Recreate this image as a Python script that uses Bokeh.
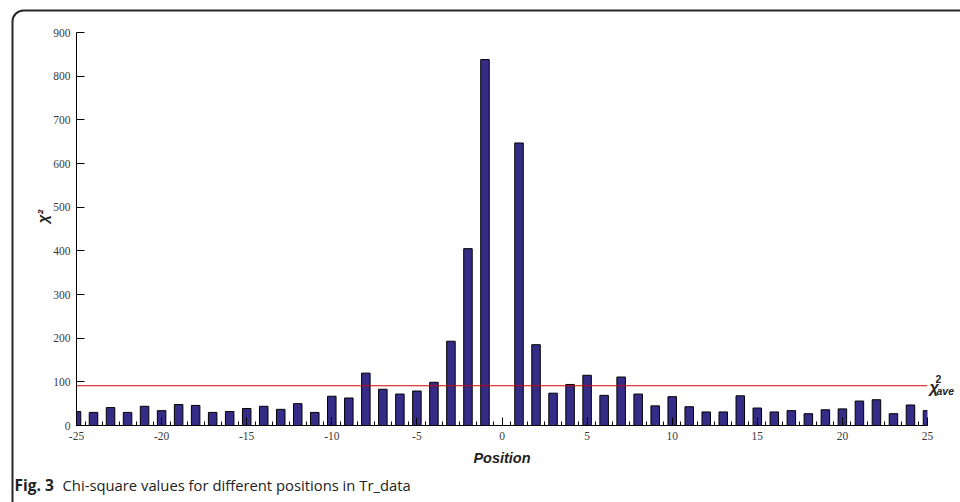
import math
from bokeh.plotting import figure
from bokeh.models import (ColumnDataSource, Label, BoxAnnotation,
                          FixedTicker, Range1d, PrintfTickFormatter)
from bokeh.embed import file_html
from bokeh.resources import INLINE

# ---- data ----
positions = [-25, -24, -23, -22, -21, -20, -19, -18, -17, -16, -15, -14, -13,
             -12, -11, -10, -9, -8, -7, -6, -5, -4, -3, -2, -1, 0, 1, 2, 3, 4,
             5, 6, 7, 8, 9, 10, 11, 12, 13, 14, 15, 16, 17, 18, 19, 20, 21, 22,
             23, 24, 25]
chi_square = [32, 30, 41, 30, 44, 34, 48, 46, 30, 32, 39, 44, 37,
              50, 30, 67, 63, 120, 83, 72, 79, 99, 193, 405, 838, 0, 647, 185, 74, 94,
              115, 69, 111, 72, 45, 66, 43, 31, 31, 68, 40, 31, 34, 27, 36, 38, 56, 59,
              27, 47, 34]
chi_ave = 91
x_ticks = [-25, -20, -15, -10, -5, 0, 5, 10, 15, 20, 25]
y_ticks = [0, 100, 200, 300, 400, 500, 600, 700, 800, 900]
caption_bold = "Fig. 3"
caption_text = "Chi-square values for different positions in Tr_data"

# ---- layout (pixels) ----
W, H = 960, 502
AX_L, AX_R = 76, 927      # pixel x of first / last position
AX_B, AX_T = 425, 32      # pixel y of 0 / 900
xmin, xmax = x_ticks[0], x_ticks[-1]
ymin, ymax = y_ticks[0], y_ticks[-1]
kx = (AX_R - AX_L) / (xmax - xmin)
ky = (AX_B - AX_T) / (ymax - ymin)
x_range = Range1d(xmin - AX_L / kx, xmax + (W - AX_R) / kx)
y_range = Range1d(ymin - (H - AX_B) / ky, ymax + AX_T / ky)

src = ColumnDataSource(dict(x=positions, y=chi_square))

p = figure(width=W, height=H, min_border=0,
           x_range=x_range, y_range=y_range,
           output_backend="svg", toolbar_location=None,
           background_fill_color="white", border_fill_color="white")
p.outline_line_color = None
p.grid.visible = False

p.vbar(x="x", top="y", bottom=0, width=0.5, source=src,
       fill_color="#352c88", line_color="black", line_width=1)

# clip the bars at the axis ends like the original chart area
p.add_layout(BoxAnnotation(right=xmin, fill_color="white", fill_alpha=1,
                           line_color=None, level="glyph"))
p.add_layout(BoxAnnotation(left=xmax, fill_color="white", fill_alpha=1,
                           line_color=None, level="glyph"))

# average chi-square line
p.segment(x0=[xmin], x1=[xmax], y0=[chi_ave], y1=[chi_ave],
          line_color="#d40000", line_width=1)

minor = [v + 0.5 for v in positions[:-1]]
xa = p.xaxis[0]
xa.fixed_location = 0
xa.bounds = (xmin, xmax)
xa.ticker = FixedTicker(ticks=x_ticks, minor_ticks=minor)
xa.formatter = PrintfTickFormatter(format="%d")
xa.major_tick_in = 8
xa.major_tick_out = 0
xa.minor_tick_in = 4
xa.minor_tick_out = 0
xa.axis_line_color = "black"
xa.major_label_text_font = "Liberation Serif"
xa.major_label_text_font_size = "11.5px"
xa.major_label_text_color = "#3a3a3a"
xa.major_label_standoff = 6
xa.axis_label = "Position"
xa.axis_label_text_font = "Liberation Sans"
xa.axis_label_text_font_style = "bold italic"
xa.axis_label_text_font_size = "14.5px"
xa.axis_label_text_color = "#222222"
xa.axis_label_standoff = 7

ya = p.yaxis[0]
ya.fixed_location = xmin
ya.bounds = (ymin, ymax)
ya.ticker = FixedTicker(ticks=y_ticks)
ya.formatter = PrintfTickFormatter(format="%d")
ya.major_tick_in = 8
ya.major_tick_out = 0
ya.minor_tick_in = 0
ya.minor_tick_out = 0
ya.axis_line_color = "black"
ya.major_label_text_font = "Liberation Serif"
ya.major_label_text_font_size = "11.5px"
ya.major_label_text_color = "#3a3a3a"
ya.major_label_standoff = 6

# y-axis title (rotated), placed where the original has it
p.add_layout(Label(x=42, y=H - 216, x_units="screen", y_units="screen",
                   text="χ²", angle=math.pi / 2, text_font="Liberation Sans",
                   text_font_style="bold italic", text_font_size="15px",
                   text_align="center", text_baseline="middle",
                   text_color="#222222", level="overlay"))

# rounded outer frame (screen units: from bottom-left of the canvas)
p.add_layout(BoxAnnotation(left=12, right=W + 40, top=H - 10, bottom=-40,
                           left_units="screen", right_units="screen",
                           top_units="screen", bottom_units="screen",
                           fill_color=None, fill_alpha=0, line_color="#262626",
                           line_alpha=1, line_width=2, border_radius=11,
                           level="overlay"))

# chi-square average label
p.add_layout(Label(x=929, y=H - 387, x_units="screen", y_units="screen",
                   text="χ", text_font="Liberation Sans",
                   text_font_style="bold italic", text_font_size="16px",
                   text_baseline="middle", text_color="#222222", level="overlay"))
p.add_layout(Label(x=935, y=H - 378, x_units="screen", y_units="screen",
                   text="2", text_font="Liberation Sans",
                   text_font_style="bold", text_font_size="10.5px",
                   text_baseline="middle", text_color="#222222", level="overlay"))
p.add_layout(Label(x=936, y=H - 390, x_units="screen", y_units="screen",
                   text="ave", text_font="Liberation Sans",
                   text_font_style="bold italic", text_font_size="10.5px",
                   text_baseline="middle", text_color="#222222", level="overlay"))

# caption
p.add_layout(Label(x=14, y=H - 484, x_units="screen", y_units="screen",
                   text=caption_bold, text_font="Open Sans",
                   text_font_style="bold", text_font_size="15.5px",
                   text_baseline="middle", text_color="#222222", level="overlay"))
p.add_layout(Label(x=62, y=H - 484, x_units="screen", y_units="screen",
                   text=caption_text, text_font="Open Sans",
                   text_font_size="14.8px",
                   text_baseline="middle", text_color="#222222", level="overlay"))

open("out.html", "w").write(file_html(p, INLINE))
